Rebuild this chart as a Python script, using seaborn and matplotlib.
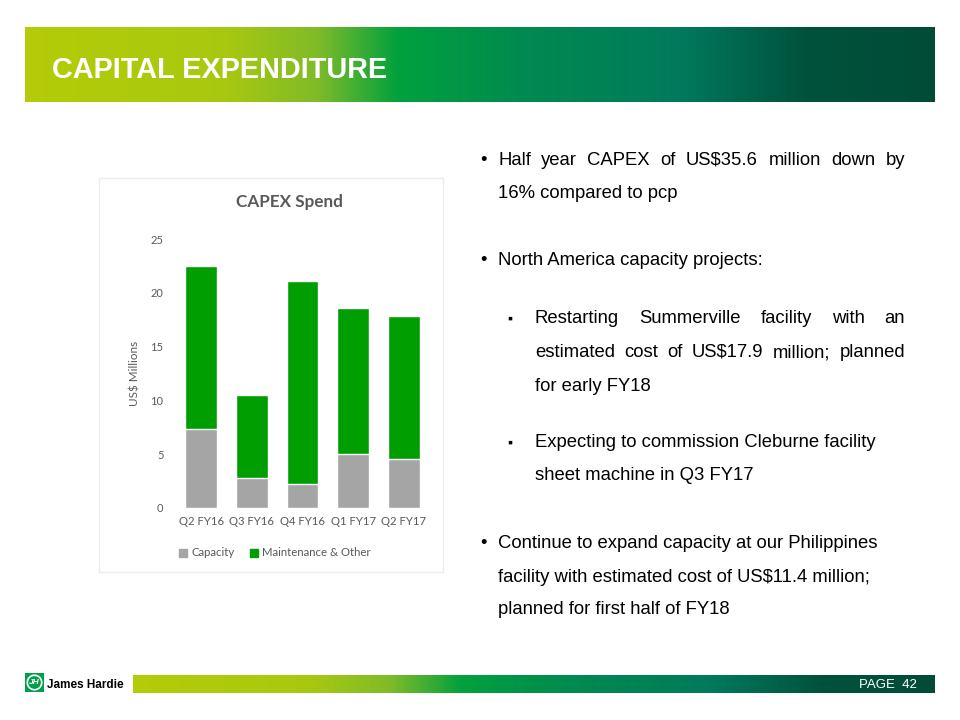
import numpy as np
import matplotlib
matplotlib.use("Agg")
import matplotlib.pyplot as plt
from matplotlib.colors import LinearSegmentedColormap
from matplotlib.patches import Rectangle, Circle
import seaborn as sns

# data (US$ millions)
quarters = ["Q2 FY16", "Q3 FY16", "Q4 FY16", "Q1 FY17", "Q2 FY17"]
capacity = [7.3, 2.8, 2.2, 5.0, 4.6]
maintenance = [15.2, 7.7, 18.9, 13.6, 13.2]
y_ticks = [0, 5, 10, 15, 20, 25]

title = "CAPITAL EXPENDITURE"
chart_title = "CAPEX Spend"
y_label = "US$ Millions"
legend_labels = ["Capacity", "Maintenance & Other"]
page_label = "PAGE  42"

# right-hand text: (text, indent level, justified, baseline y in px, has bullet)
text_lines = [
    ("Half year CAPEX of US$35.6 million down by", 0, True, 165, True),
    ("16% compared to pcp", 0, False, 198, False),
    ("North America capacity projects:", 0, False, 265, True),
    ("Restarting Summerville facility with an", 1, True, 323, True),
    ("estimated cost of US$17.9 million; planned", 1, True, 357, False),
    ("for early FY18", 1, False, 391, False),
    ("Expecting to commission Cleburne facility", 1, False, 447, True),
    ("sheet machine in Q3 FY17", 1, False, 480, False),
    ("Continue to expand capacity at our Philippines", 0, False, 548, True),
    ("facility with estimated cost of US$11.4 million;", 0, False, 582, False),
    ("planned for first half of FY18", 0, False, 614, False),
]

grey = "#a5a5a5"
green = "#009e00"
label_grey = "#595959"

sns.set_theme(style="white")
plt.rcParams["font.family"] = ["Liberation Sans", "DejaVu Sans"]
plt.rcParams["text.parse_math"] = False
plt.rcParams["text.color"] = "black"

W, H = 960, 720
fig = plt.figure(figsize=(9.6, 7.2), dpi=100)
fig.patch.set_facecolor("white")


def fx(px):
    return px / W


def fy(py):
    return 1 - py / H


band = LinearSegmentedColormap.from_list("band", [
    (0.0, "#b4cc08"), (0.22, "#a8c810"), (0.32, "#80bb28"), (0.41, "#00a13e"),
    (0.55, "#008a50"), (0.72, "#007a5c"), (0.86, "#00523c"), (1.0, "#004c37")])
grad = np.linspace(0, 1, 512).reshape(1, -1)

# header band
hax = fig.add_axes([fx(25), fy(102), fx(910), (102 - 27) / H])
hax.imshow(grad, aspect="auto", cmap=band, extent=[0, 1, 0, 1])
hax.axis("off")
fig.text(fx(52), fy(78), title, color="white", fontsize=20.8, fontweight="bold",
         family="Liberation Sans", va="baseline", ha="left")

# footer band
fax = fig.add_axes([fx(133), fy(693), fx(802), 18 / H])
fax.imshow(grad, aspect="auto", cmap=band, extent=[0, 1, 0, 1])
fax.axis("off")
fig.text(fx(917), fy(688.5), page_label, color="white", fontsize=9.5,
         ha="right", va="baseline")

# logo
lax = fig.add_axes([fx(25), fy(692), fx(19), 19 / H])
lax.set_xlim(0, 1)
lax.set_ylim(0, 1)
lax.add_patch(Rectangle((0, 0), 1, 1, color="#00a04a"))
lax.add_patch(Circle((0.5, 0.5), 0.38, fill=False, ec="white", lw=1.2))
lax.text(0.5, 0.48, "JH", color="white", fontsize=6, fontweight="bold",
         style="italic", ha="center", va="center")
lax.axis("off")
fig.text(fx(47), fy(687.5), "James Hardie", fontsize=8.5, fontweight="bold",
         color="black", va="baseline")

# chart frame
fig.patches.append(Rectangle((fx(99), fy(572)), fx(344), (572 - 178) / H,
                             transform=fig.transFigure, fill=False,
                             ec="#ececec", lw=1))

ax = fig.add_axes([fx(176), fy(508), fx(253), (508 - 239) / H])
totals = [c + m for c, m in zip(capacity, maintenance)]
sns.barplot(x=quarters, y=totals, color=green, width=0.63, saturation=1, ax=ax)
sns.barplot(x=quarters, y=capacity, color=grey, width=0.63, saturation=1, ax=ax)
ax.set_ylim(0, 25)
ax.set_yticks(y_ticks)
ax.set_xlim(-0.5, len(quarters) - 0.5)
sns.despine(ax=ax, left=True, bottom=True)
ax.tick_params(axis="both", length=0, colors=label_grey)
ax.tick_params(axis="x", pad=6, labelsize=8.2)
ax.tick_params(axis="y", pad=9, labelsize=8)
for t in ax.get_xticklabels() + ax.get_yticklabels():
    t.set_family(["Lato", "DejaVu Sans"])
ax.set_ylabel(y_label, color=label_grey, fontsize=8.4, family=["Lato", "DejaVu Sans"],
              labelpad=7)
ax.set_xlabel("")

fig.text(fx(289), fy(202), chart_title, ha="center", va="center", fontsize=12.3,
         color=label_grey, fontweight="bold", family=["Lato", "DejaVu Sans"])

handles = [Rectangle((0, 0), 1, 1, color=grey), Rectangle((0, 0), 1, 1, color=green)]
leg = fig.legend(handles, legend_labels, loc="center", ncol=2,
                 bbox_to_anchor=(fx(275), fy(553)), frameon=False,
                 handlelength=0.7, handleheight=0.7, handletextpad=0.4,
                 columnspacing=1.3, prop={"family": ["Lato", "DejaVu Sans"], "size": 8.2})
for t in leg.get_texts():
    t.set_color(label_grey)

# right-hand bullet text
renderer = fig.canvas.get_renderer()
font_size = 13.3
right_edge = 905
for text, level, justify, base, bullet in text_lines:
    x0 = 498 if level == 0 else 535
    if bullet:
        if level == 0:
            fig.text(fx(480), fy(base), "•", fontsize=font_size, va="baseline")
        else:
            fig.text(fx(507), fy(base), "▪", fontsize=font_size - 3, va="baseline")
    if not justify:
        fig.text(fx(x0), fy(base), text, fontsize=font_size, va="baseline")
        continue
    words = text.split()
    arts = [fig.text(fx(x0), fy(base), w, fontsize=font_size, va="baseline")
            for w in words]
    widths = [a.get_window_extent(renderer).width for a in arts]
    gap = (right_edge - x0 - sum(widths)) / (len(words) - 1)
    x = x0
    for a, w in zip(arts, widths):
        a.set_x(fx(x))
        x += w + gap

fig.savefig("out.png", dpi=100)
